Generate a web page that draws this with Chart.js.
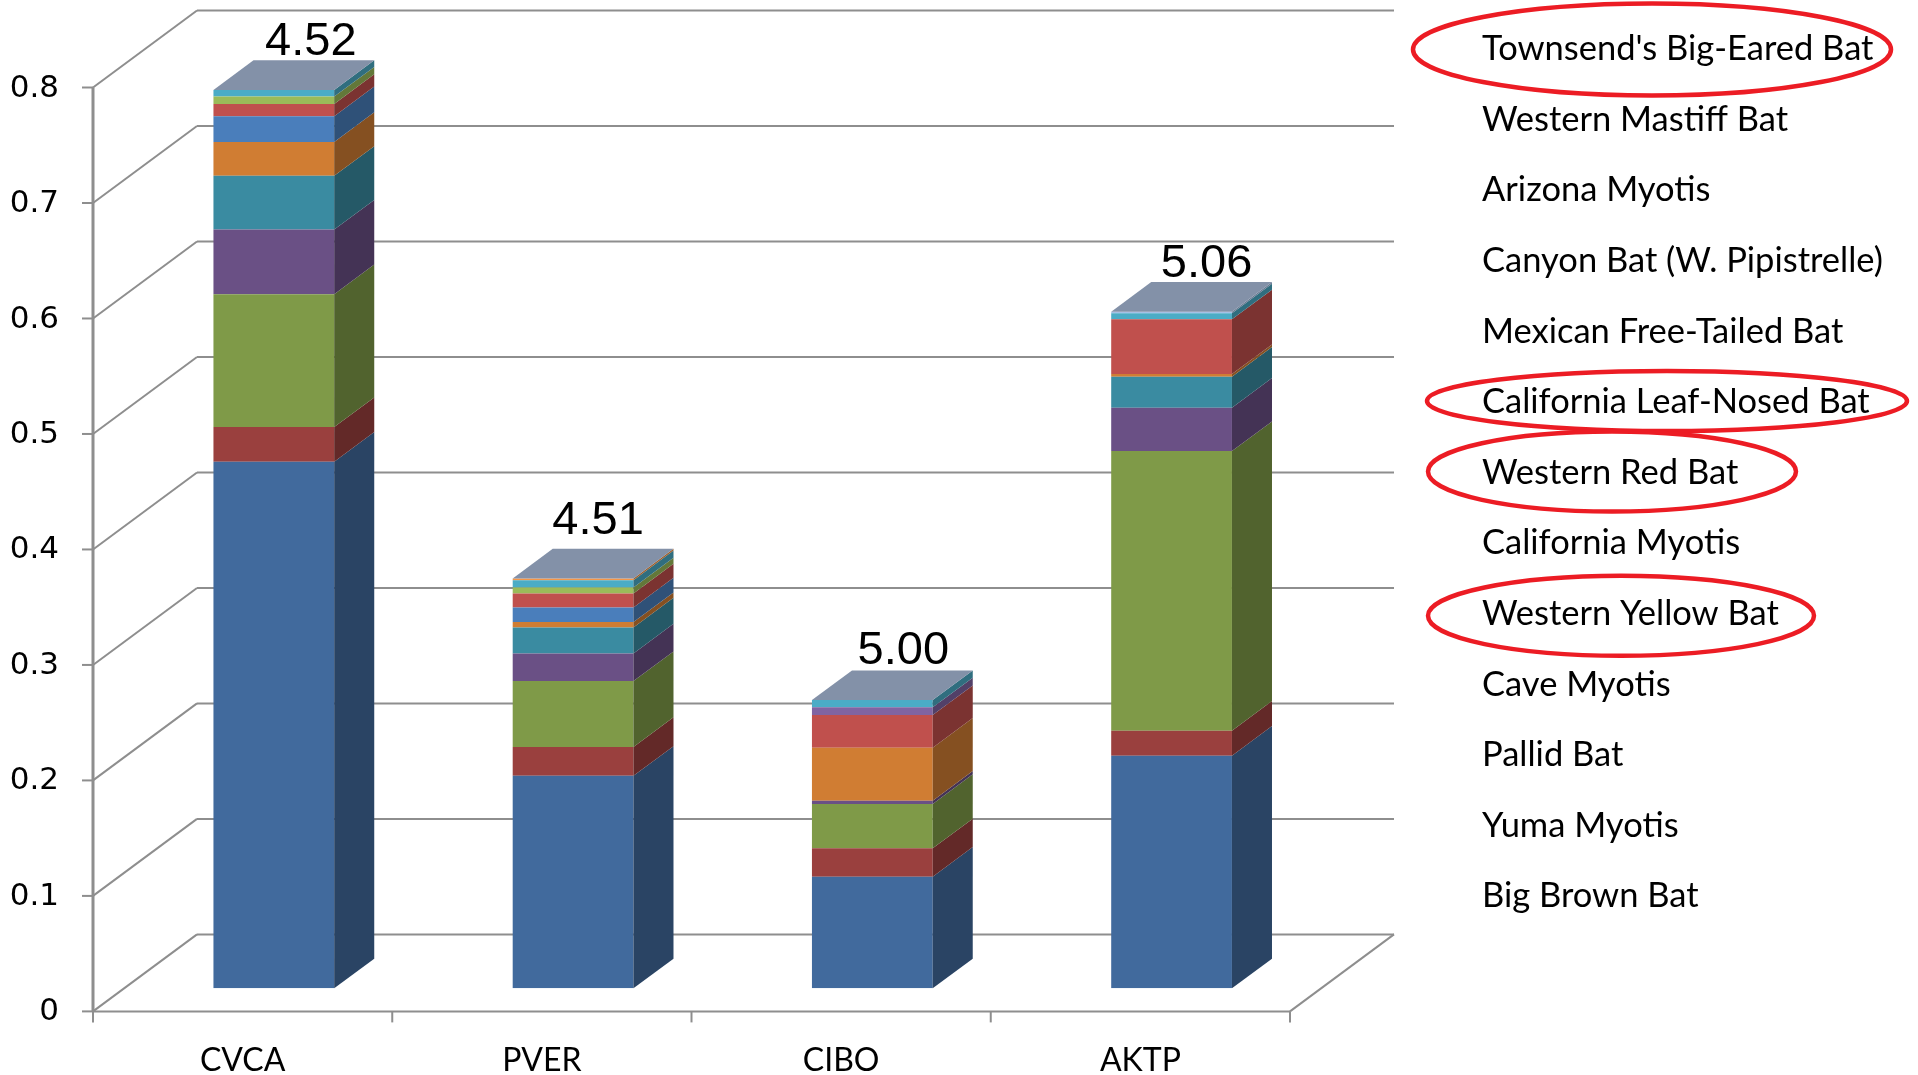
<!DOCTYPE html>
<html>
<head>
<meta charset="utf-8">
<script src="https://cdn.jsdelivr.net/npm/chart.js@4.4.1/dist/chart.umd.min.js"></script>
<style>
  html, body { margin: 0; padding: 0; background: #ffffff; overflow: hidden; }
  #wrap { width: 1918px; height: 1075px; position: relative; }
</style>
</head>
<body>
<div id="wrap"><canvas id="bats" width="1918" height="1075"></canvas></div>
<script>
// Sites and the diversity index printed above each column
const sites = ['CVCA', 'PVER', 'CIBO', 'AKTP'];
const diversityIndex = [4.52, 4.51, 5.00, 5.06];
const yTickValues = [0, 0.1, 0.2, 0.3, 0.4, 0.5, 0.6, 0.7, 0.8];

// Proportion of activity per species at each site (stacked bottom to top)
const bigBrownBat            = [0.456, 0.184, 0.0966, 0.2014];
const yumaMyotis             = [0.030, 0.025, 0.0246, 0.0217];
const pallidBat              = [0.115, 0.057, 0.0384, 0.2421];
const caveMyotis             = [0.056, 0.024, 0.0028, 0.0375];
const westernYellowBat       = [0.0465, 0.0225, 0, 0.0269];
const californiaMyotis       = [0.0294, 0.0046, 0.0459, 0.0023];
const westernRedBat          = [0.0222, 0.0127, 0, 0];
const californiaLeafNosedBat = [0.0107, 0.0121, 0.0283, 0.0474];
const mexicanFreeTailedBat   = [0.0063, 0.0052, 0, 0];
const canyonBat              = [0, 0, 0.0067, 0];
const arizonaMyotis          = [0.0058, 0.0063, 0.0063, 0.0052];
const westernMastiffBat      = [0, 0.0015, 0, 0];
const townsendsBigEaredBat   = [0, 0, 0, 0.0014];

const speciesNames = [
  'Big Brown Bat', 'Yuma Myotis', 'Pallid Bat', 'Cave Myotis', 'Western Yellow Bat',
  'California Myotis', 'Western Red Bat', 'California Leaf-Nosed Bat', 'Mexican Free-Tailed Bat',
  'Canyon Bat (W. Pipistrelle)', 'Arizona Myotis', 'Western Mastiff Bat',
  "Townsend's Big-Eared Bat"
];
const speciesValues = [
  bigBrownBat, yumaMyotis, pallidBat, caveMyotis, westernYellowBat, californiaMyotis,
  westernRedBat, californiaLeafNosedBat, mexicanFreeTailedBat, canyonBat, arizonaMyotis,
  westernMastiffBat, townsendsBigEaredBat
];
const highlighted = ["Townsend's Big-Eared Bat", 'California Leaf-Nosed Bat', 'Western Red Bat', 'Western Yellow Bat'];

// ---- styling ----
const frontColors = [
  '#416A9D', '#9A403E', '#7F9A48', '#6A5085', '#3A8BA1', '#D07D33',
  '#4A7EBB', '#C0504D', '#9BBB59', '#8064A2', '#4BACC6', '#F79646', '#A5C0E6'
];
function shade(hex, k) {
  const n = parseInt(hex.slice(1), 16);
  const r = Math.round(((n >> 16) & 255) * k);
  const g = Math.round(((n >> 8) & 255) * k);
  const b = Math.round((n & 255) * k);
  return `rgb(${r},${g},${b})`;
}
const TOP_FACE = '#8391A8';
const GRID = '#8E8E8E';

// Oblique projection of the floor depth, and where the columns sit within it
const DEPTH_DX = 104, DEPTH_DY = -77;
const BAR_FRONT = 0.30;      // columns start 30% into the depth
const BAR_DEPTH = 0.385;     // and are 38.5% of the depth deep
const frontOff = { x: -BAR_FRONT * DEPTH_DX, y: -BAR_FRONT * DEPTH_DY };
const backOff  = { x: (1 - BAR_FRONT) * DEPTH_DX, y: (1 - BAR_FRONT) * DEPTH_DY };
const sideDX = BAR_DEPTH * DEPTH_DX, sideDY = BAR_DEPTH * DEPTH_DY;

// Text boxes above the columns are placed by hand, slightly off centre
const indexLabelNudge = [[7, 6], [-5, -4], [1, 5], [5, 6]];

// Legend rows and the hand-drawn highlight rings
const legendX = 1482, legendTop = 49, legendStep = 70.6;
const rings = {
  "Townsend's Big-Eared Bat":  { cx: 1652, dy: 0.5, rx: 239, ry: 46 },
  'California Leaf-Nosed Bat': { cx: 1667, dy: -1,  rx: 240, ry: 30 },
  'Western Red Bat':           { cx: 1612, dy: -1,  rx: 184, ry: 40 },
  'Western Yellow Bat':        { cx: 1621, dy: 2,   rx: 193, ry: 40 }
};

function line(ctx, x1, y1, x2, y2) {
  ctx.beginPath(); ctx.moveTo(x1, y1); ctx.lineTo(x2, y2); ctx.stroke();
}

const chart3d = {
  id: 'chart3d',
  beforeDatasetsDraw(chart) {
    const { ctx, chartArea: a, scales: { x, y } } = chart;
    const catW = x.getPixelForValue(1) - x.getPixelForValue(0);
    const fL = a.left + frontOff.x, fR = a.right + frontOff.x;
    const bL = a.left + backOff.x,  bR = a.right + backOff.x;
    ctx.save();
    ctx.strokeStyle = GRID;
    ctx.lineWidth = 2;
    ctx.lineCap = 'butt';
    // back wall gridlines and side wall obliques
    yTickValues.forEach(v => {
      const yp = y.getPixelForValue(v);
      const yf = yp + frontOff.y, yb = yp + backOff.y;
      line(ctx, fL, yf, bL, yb);
      line(ctx, bL, yb, bR, yb);
      line(ctx, fL - 11, yf, fL, yf);
    });
    // floor
    const y0 = y.getPixelForValue(0);
    line(ctx, fL, y0 + frontOff.y, fR, y0 + frontOff.y);
    line(ctx, fR, y0 + frontOff.y, bR, y0 + backOff.y);
    // category tick marks
    for (let i = 0; i <= sites.length; i++) {
      const xp = x.getPixelForValue(0) - catW / 2 + i * catW + frontOff.x;
      line(ctx, xp, y0 + frontOff.y, xp, y0 + frontOff.y + 11);
    }
    // vertical axis
    ctx.lineWidth = 3;
    line(ctx, fL, y.getPixelForValue(yTickValues[yTickValues.length - 1]) + frontOff.y, fL, y0 + frontOff.y);
    // tick labels
    ctx.fillStyle = '#000';
    ctx.font = '31px "DejaVu Sans"';
    ctx.textAlign = 'right';
    ctx.textBaseline = 'middle';
    yTickValues.forEach(v => {
      ctx.fillText(String(v), 59, y.getPixelForValue(v) + frontOff.y + 1);
    });
    // category labels
    ctx.font = '32px Lato';
    ctx.textAlign = 'center';
    ctx.textBaseline = 'middle';
    sites.forEach((s, i) => {
      ctx.fillText(s, x.getPixelForValue(i) + frontOff.x, 1061);
    });
    ctx.restore();
  },
  afterDatasetsDraw(chart) {
    const { ctx } = chart;
    ctx.save();
    const tops = [];
    chart.data.datasets.forEach((ds, di) => {
      const meta = chart.getDatasetMeta(di);
      meta.data.forEach((el, j) => {
        const p = el.getProps(['x', 'y', 'base', 'width'], true);
        const top = Math.min(p.y, p.base), bot = Math.max(p.y, p.base);
        const right = p.x + p.width / 2, left = p.x - p.width / 2;
        if (bot - top > 0.01) {
          ctx.fillStyle = shade(frontColors[di], 0.64);
          ctx.beginPath();
          ctx.moveTo(right, top);
          ctx.lineTo(right + sideDX, top + sideDY);
          ctx.lineTo(right + sideDX, bot + sideDY);
          ctx.lineTo(right, bot);
          ctx.closePath();
          ctx.fill();
        }
        if (!tops[j] || top < tops[j].top) tops[j] = { top, left, right, x: p.x };
      });
    });
    // lids of the columns and the index labels above them
    tops.forEach((t, j) => {
      ctx.fillStyle = TOP_FACE;
      ctx.beginPath();
      ctx.moveTo(t.left, t.top);
      ctx.lineTo(t.left + sideDX, t.top + sideDY);
      ctx.lineTo(t.right + sideDX, t.top + sideDY);
      ctx.lineTo(t.right, t.top);
      ctx.closePath();
      ctx.fill();
      ctx.fillStyle = '#000';
      ctx.font = '47px "Liberation Sans"';
      ctx.textAlign = 'center';
      ctx.textBaseline = 'middle';
      const [nx, ny] = indexLabelNudge[j];
      ctx.fillText(diversityIndex[j].toFixed(2), t.x + 30 + nx, t.top + sideDY - 24 + ny);
    });
    // legend, top entry is the last series
    ctx.font = '34.5px Lato';
    ctx.textAlign = 'left';
    ctx.textBaseline = 'middle';
    const order = speciesNames.slice().reverse();
    order.forEach((name, k) => {
      const ly = legendTop + k * legendStep;
      ctx.fillStyle = '#000';
      ctx.fillText(name, legendX, ly);
      if (highlighted.includes(name)) {
        const r = rings[name];
        ctx.strokeStyle = '#EC1C24';
        ctx.lineWidth = 4.5;
        ctx.beginPath();
        ctx.ellipse(r.cx, ly + r.dy, r.rx, r.ry, 0, 0, Math.PI * 2);
        ctx.stroke();
      }
    });
    ctx.restore();
  }
};

new Chart(document.getElementById('bats'), {
  type: 'bar',
  data: {
    labels: sites,
    datasets: speciesNames.map((name, i) => ({
      label: name,
      data: speciesValues[i],
      backgroundColor: frontColors[i],
      borderWidth: 0,
      categoryPercentage: 1,
      barPercentage: 0.4035
    }))
  },
  options: {
    responsive: false,
    animation: false,
    devicePixelRatio: 1,
    layout: { padding: { left: 124.2, right: 596.8, top: 64.4, bottom: 86.7 } },
    plugins: { legend: { display: false }, tooltip: { enabled: false } },
    scales: {
      x: { stacked: true, display: false },
      y: { stacked: true, display: false, min: 0, max: 0.8 }
    }
  },
  plugins: [chart3d]
});
</script>
</body>
</html>
